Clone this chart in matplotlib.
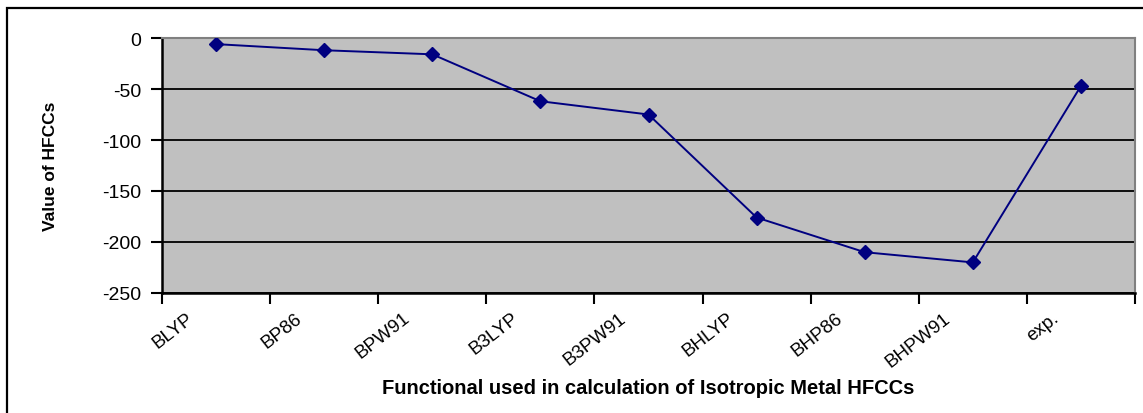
import matplotlib.pyplot as plt
from matplotlib.patches import Rectangle
from matplotlib.transforms import ScaledTranslation

functionals = ["BLYP", "BP86", "BPW91", "B3LYP", "B3PW91", "BHLYP", "BHP86", "BHPW91", "exp."]
hfcc = [-6, -12, -16, -62, -75, -176, -210, -220, -47]
yticks = [0, -50, -100, -150, -200, -250]

plt.rcParams['axes.unicode_minus'] = False
plt.rcParams['font.family'] = ['Liberation Sans', 'DejaVu Sans']

fig = plt.figure(figsize=(11.43, 4.14), dpi=100)
ax = fig.add_axes([162 / 1143, 1 - 294 / 414, (1135 - 162) / 1143, (294 - 39) / 414])

# outer chart border (runs off the right and bottom of the image)
fig.patches.append(Rectangle((7 / 1143, -0.2), 1.2, 0.2 + 1 - 9 / 414, transform=fig.transFigure,
                             fill=False, edgecolor="black", linewidth=1.6))

ax.set_facecolor("#C0C0C0")
x = list(range(len(functionals)))
ax.plot(x, hfcc, color="#000080", linewidth=1.4, marker="D", markersize=7.5,
        markerfacecolor="#000080", markeredgecolor="#000080", zorder=3)

ax.set_xlim(-0.5, len(functionals) - 0.5)
ax.set_ylim(-250, 0)
ax.set_yticks(yticks)
ax.set_yticklabels([str(v) for v in yticks], fontsize=14)
ax.yaxis.grid(True, color="black", linewidth=1.3)
ax.set_axisbelow(True)

ax.set_xticks([i - 0.5 for i in range(len(functionals) + 1)])
ax.set_xticklabels([])
ax.set_xticks(x, minor=True)
ax.set_xticklabels(functionals, minor=True, rotation=38, ha="right", va="top", fontsize=13.5)
ax.tick_params(axis="x", which="minor", length=0, pad=0)
ax.tick_params(axis="both", which="major", length=8, width=1.5, color="black", direction="out")
ax.tick_params(axis="y", which="major", pad=7)
off = ScaledTranslation(-19 / 100, -16 / 100, fig.dpi_scale_trans)
for lab in ax.get_xticklabels(minor=True):
    lab.set_transform(lab.get_transform() + off)

for side in ["top", "right"]:
    ax.spines[side].set_color("#808080")
    ax.spines[side].set_linewidth(1.5)
for side in ["left", "bottom"]:
    ax.spines[side].set_color("black")
    ax.spines[side].set_linewidth(1.8)

ax.set_xlabel("Functional used in calculation of Isotropic Metal HFCCs", fontsize=14.5,
              fontweight="bold")
ax.xaxis.set_label_coords(0.5, -0.335)
ax.set_ylabel("Value of HFCCs", fontsize=12.5, fontweight="bold",
              family=['Liberation Sans Narrow', 'Liberation Sans', 'DejaVu Sans'])
ax.yaxis.set_label_coords(-0.107, 0.5)

fig.savefig("out.png", dpi=100)
plt.close(fig)
